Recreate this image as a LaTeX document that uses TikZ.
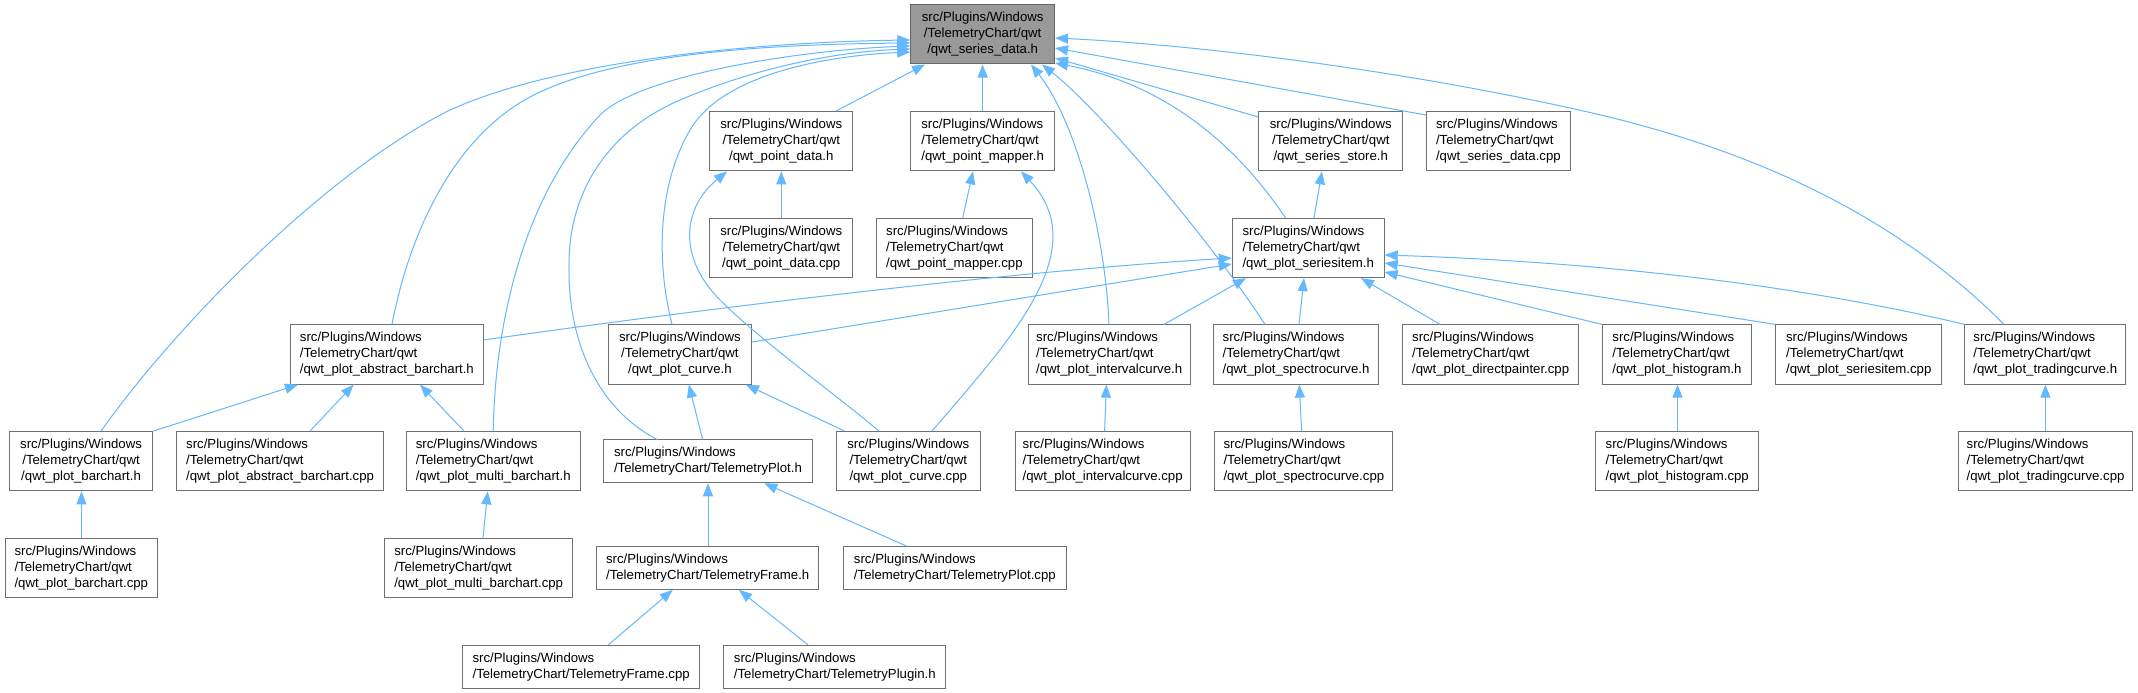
\documentclass[tikz,border=0pt]{standalone}
\usepackage{fontspec}
\setmainfont{Liberation Sans}
\usetikzlibrary{arrows.meta}
\definecolor{edgeblue}{HTML}{63B8FF}
\definecolor{boxline}{HTML}{707070}
\definecolor{rootline}{HTML}{666666}
\definecolor{rootfill}{HTML}{999999}
\tikzset{
  nbox/.style={draw=boxline, line width=1pt, fill=white, inner sep=0pt, align=center,
    font=\fontsize{13.2}{16}\selectfont, minimum height=59.3pt},
  lbox/.style={nbox, align=left},
  twol/.style={minimum height=42.8pt},
  nroot/.style={nbox, fill=rootfill, draw=rootline},
  dep/.style={draw=edgeblue, line width=1pt, -{Triangle[length=13pt,width=10pt]}},
}
\newcommand{\pq}{src/Plugins/Windows\\/TelemetryChart/qwt\\}
\newcommand{\pt}{src/Plugins/Windows\\/TelemetryChart/}
\begin{document}
\begin{tikzpicture}[x=1pt,y=-1pt]
\fill[white] (0,0) rectangle (2138,693);
\useasboundingbox (0,0) rectangle (2138,693);
% row 0
\node[nroot, minimum width=143.7pt] (sd) at (982.65,34.35) {\pq/qwt\_series\_data.h};
% row 1
\node[nbox, minimum width=143.3pt] (pd) at (781.25,141.2) {\pq/qwt\_point\_data.h};
\node[lbox, minimum width=143.7pt] (pm) at (982.65,141.2) {\pq/qwt\_point\_mapper.h};
\node[nbox, minimum width=143.7pt] (ss) at (1330.75,141.2) {\pq/qwt\_series\_store.h};
\node[lbox, minimum width=144pt] (sdc) at (1498.4,141.2) {\pq/qwt\_series\_data.cpp};
% row 2
\node[nbox, minimum width=143.3pt] (pdc) at (781.25,248) {\pq/qwt\_point\_data.cpp};
\node[lbox, minimum width=155.2pt] (pmc) at (954.4,248) {\pq/qwt\_point\_mapper.cpp};
\node[lbox, minimum width=152pt] (si) at (1308.2,248) {\pq/qwt\_plot\_seriesitem.h};
% row 3
\node[lbox, minimum width=192.4pt] (ab) at (386.9,354.5) {\pq/qwt\_plot\_abstract\_barchart.h};
\node[nbox, minimum width=143pt] (cu) at (679.9,354.5) {\pq/qwt\_plot\_curve.h};
\node[lbox, minimum width=161.7pt] (ic) at (1109.15,354.5) {\pq/qwt\_plot\_intervalcurve.h};
\node[lbox, minimum width=165.3pt] (sc) at (1296.05,354.5) {\pq/qwt\_plot\_spectrocurve.h};
\node[lbox, minimum width=176.5pt] (dp) at (1490.65,354.5) {\pq/qwt\_plot\_directpainter.cpp};
\node[lbox, minimum width=149.2pt] (hi) at (1677,354.5) {\pq/qwt\_plot\_histogram.h};
\node[lbox, minimum width=166.2pt] (sic) at (1858.7,354.5) {\pq/qwt\_plot\_seriesitem.cpp};
\node[lbox, minimum width=161pt] (tc) at (2045.3,354.5) {\pq/qwt\_plot\_tradingcurve.h};
% row 4
\node[nbox, minimum width=143.7pt] (bc) at (81.05,461.2) {\pq/qwt\_plot\_barchart.h};
\node[lbox, minimum width=206.6pt] (abc) at (280.1,461.2) {\pq/qwt\_plot\_abstract\_barchart.cpp};
\node[lbox, minimum width=173.6pt] (mb) at (493.2,461.2) {\pq/qwt\_plot\_multi\_barchart.h};
\node[lbox, twol, minimum width=208.1pt] (tp) at (707.95,461.35) {\pt TelemetryPlot.h};
\node[nbox, minimum width=143.7pt] (cuc) at (908.25,461.2) {\pq/qwt\_plot\_curve.cpp};
\node[lbox, minimum width=175.4pt] (icc) at (1102.7,461.2) {\pq/qwt\_plot\_intervalcurve.cpp};
\node[lbox, minimum width=178.1pt] (scc) at (1303.85,461.2) {\pq/qwt\_plot\_spectrocurve.cpp};
\node[lbox, minimum width=162.9pt] (hic) at (1677.25,461.2) {\pq/qwt\_plot\_histogram.cpp};
\node[lbox, minimum width=174.7pt] (tcc) at (2045.55,461.2) {\pq/qwt\_plot\_tradingcurve.cpp};
% row 5
\node[lbox, minimum width=152.4pt] (bcc) at (81.3,568) {\pq/qwt\_plot\_barchart.cpp};
\node[lbox, minimum width=187.8pt] (mbc) at (478.7,568) {\pq/qwt\_plot\_multi\_barchart.cpp};
\node[lbox, twol, minimum width=222.4pt] (tf) at (707.7,568) {\pt TelemetryFrame.h};
\node[lbox, twol, minimum width=222.3pt] (tpc) at (954.85,568) {\pt TelemetryPlot.cpp};
% row 6
\node[lbox, twol, minimum width=236.5pt] (tfc) at (581.15,666.65) {\pt TelemetryFrame.cpp};
\node[lbox, twol, minimum width=221.8pt] (tpl) at (834.8,666.65) {\pt TelemetryPlugin.h};
% edges to qwt_series_data.h
\draw[dep] (pd.north -| 836,0) -- (sd.south -| 925,0);
\draw[dep] (pm.north) -- (sd.south);
\draw[dep] (ss.west |- 0,117) -- (sd.east |- 0,58);
\draw[dep] (sdc.west |- 0,115) -- (sd.east |- 0,48);
\draw[dep] (tc.north -| 2004,0) .. controls (1900,220) and (1760,150) .. (1579,110) .. controls (1400,70) and (1200,45) .. (sd.east |- 0,38);
\draw[dep] (si.north -| 1285.5,0) .. controls (1240,150) and (1170,85) .. (sd.east |- 0,63);
\draw[dep] (sc.north -| 1265,0) .. controls (1210,240) and (1100,110) .. (sd.south -| 1042,0);
\draw[dep] (ic.north -| 1109,0) .. controls (1105,230) and (1075,120) .. (sd.south -| 1031,0);
\draw[dep] (bc.north -| 101,0) .. controls (180,320) and (330,170) .. (450,110) .. controls (560,60) and (760,42) .. (sd.west |- 0,40);
\draw[dep] (ab.north -| 392,0) .. controls (410,230) and (455,137) .. (530,97) .. controls (620,49) and (800,44) .. (sd.west |- 0,43);
\draw[dep] (mb.north) .. controls (495,330) and (520,200) .. (600,115) .. controls (640,75) and (800,50) .. (sd.west |- 0,46);
\draw[dep] (tp.north -| 657,0) .. controls (600,410) and (568,345) .. (569,267) .. controls (568,190) and (610,130) .. (680,100) .. controls (750,70) and (830,52) .. (sd.west |- 0,49);
\draw[dep] (cu.north -| 672,0) .. controls (658,270) and (655,190) .. (690,130) .. controls (725,70) and (840,55) .. (sd.west |- 0,52);
% to qwt_point_data.h
\draw[dep] (pdc.north) -- (pd.south);
\draw[dep] (cuc.north -| 879,0) .. controls (830,390) and (760,340) .. (720,300) .. controls (680,260) and (680,210) .. (pd.south -| 727,0);
% to qwt_point_mapper.h
\draw[dep] (pmc.north -| 962.7,0) -- (pm.south -| 973,0);
\draw[dep] (cuc.north -| 932,0) .. controls (1010,340) and (1095,250) .. (pm.south -| 1021,0);
% to qwt_series_store.h
\draw[dep] (si.north -| 1314,0) -- (ss.south -| 1322,0);
% to qwt_plot_seriesitem.h
\draw[dep] (ab.east |- 0,340) .. controls (680,312) and (1000,272) .. (si.west |- 0,258);
\draw[dep] (cu.east |- 0,342) -- (si.west |- 0,264);
\draw[dep] (ic.north -| 1164,0) -- (si.south -| 1246,0);
\draw[dep] (sc.north -| 1299,0) -- (si.south -| 1304,0);
\draw[dep] (dp.north -| 1440,0) -- (si.south -| 1361,0);
\draw[dep] (hi.north west) -- (si.east |- 0,272);
\draw[dep] (sic.north west) -- (si.east |- 0,263);
\draw[dep] (tc.north west) .. controls (1800,285) and (1600,262) .. (si.east |- 0,255);
% to qwt_plot_abstract_barchart.h
\draw[dep] (bc.north east) -- (ab.south -| 298,0);
\draw[dep] (abc.north -| 310,0) -- (ab.south -| 353.6,0);
\draw[dep] (mb.north -| 464,0) -- (ab.south -| 420,0);
% to qwt_plot_curve.h
\draw[dep] (tp.north -| 702.6,0) -- (cu.south -| 688.8,0);
\draw[dep] (cuc.north -| 844.6,0) -- (cu.south -| 745.9,0);
% single children
\draw[dep] (icc.north -| 1104.6,0) -- (ic.south -| 1106.4,0);
\draw[dep] (scc.north -| 1301.6,0) -- (sc.south -| 1299.3,0);
\draw[dep] (hic.north -| 1677.5,0) -- (hi.south -| 1677.5,0);
\draw[dep] (tcc.north -| 2045.4,0) -- (tc.south -| 2045.4,0);
\draw[dep] (bcc.north -| 81.5,0) -- (bc.south -| 81.5,0);
\draw[dep] (mbc.north -| 483,0) -- (mb.south -| 487.7,0);
% to TelemetryPlot.h / TelemetryFrame.h
\draw[dep] (tf.north -| 708,0) -- (tp.south -| 708,0);
\draw[dep] (tpc.north -| 906.6,0) -- (tp.south -| 764.3,0);
\draw[dep] (tfc.north -| 608.4,0) -- (tf.south -| 672.7,0);
\draw[dep] (tpl.north -| 807.9,0) -- (tf.south -| 739,0);
\end{tikzpicture}
\end{document}
